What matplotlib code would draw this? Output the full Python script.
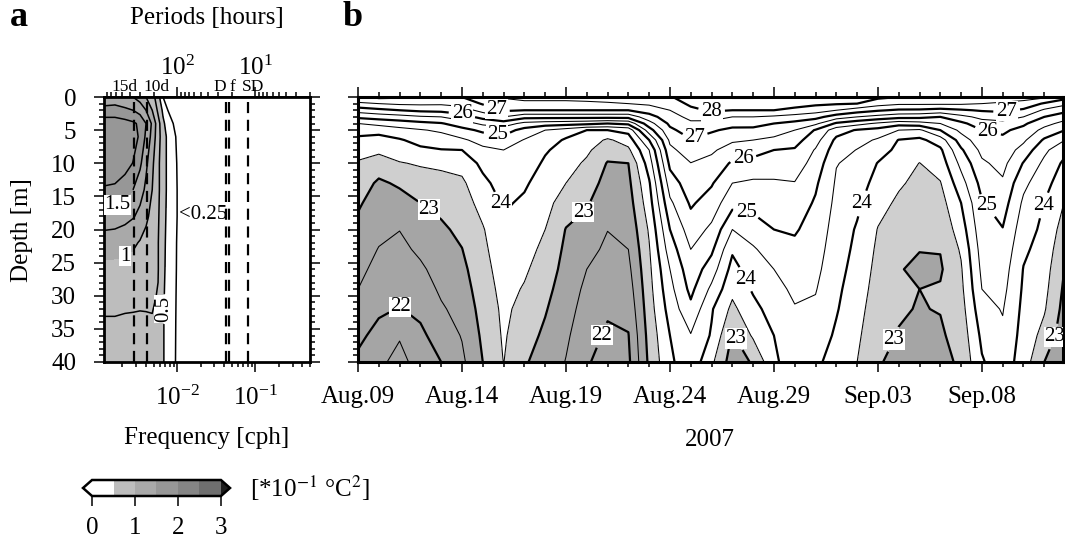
import numpy as np
import matplotlib
matplotlib.use('Agg')
import matplotlib.pyplot as plt
import matplotlib.colors as mcolors
from matplotlib.cm import ScalarMappable
from matplotlib.ticker import MultipleLocator, NullFormatter, NullLocator
from matplotlib.transforms import blended_transform_factory

plt.rcParams['font.family'] = 'Liberation Serif'
plt.rcParams['mathtext.fontset'] = 'stix'

# ---------------- panel b : temperature, one row per day from Aug.09
days = np.arange(35)
depths_b = [0, 1, 2, 3, 4, 5, 6.5, 8, 10, 13, 16, 20, 23, 26, 29, 32, 36, 40]
temp = [
    [26.8, 26.43, 25.71, 25.11, 24.5, 24.19, 23.88, 23.68, 23.45, 23.26, 23.06, 22.88, 22.75, 22.63, 22.5, 22.33, 22.11, 21.9],
    [27.1, 26.5, 25.88, 25.21, 24.65, 24.15, 23.83, 23.61, 23.26, 22.92, 22.79, 22.62, 22.48, 22.35, 22.21, 22.08, 21.85, 21.6],
    [27.05, 26.58, 26.0, 25.31, 24.75, 24.34, 23.95, 23.74, 23.47, 23.07, 22.81, 22.51, 22.38, 22.25, 22.12, 21.98, 21.54, 21.35],
    [26.9, 26.59, 26.11, 25.44, 24.86, 24.46, 24.17, 23.9, 23.55, 23.26, 23.0, 22.76, 22.59, 22.42, 22.26, 22.11, 21.9, 21.7],
    [26.8, 26.57, 26.15, 25.5, 24.96, 24.58, 24.26, 23.98, 23.6, 23.33, 23.13, 22.92, 22.81, 22.69, 22.58, 22.44, 22.22, 22.0],
    [27.0, 26.67, 26.27, 25.78, 25.25, 24.85, 24.42, 24.0, 23.67, 23.41, 23.28, 23.11, 22.99, 22.88, 22.78, 22.67, 22.53, 22.4],
    [27.3, 27.05, 26.67, 26.17, 25.61, 25.1, 24.68, 24.39, 24.13, 23.87, 23.67, 23.46, 23.39, 23.32, 23.25, 23.18, 23.09, 23.0],
    [27.55, 27.31, 27.07, 26.5, 25.75, 25.23, 24.8, 24.5, 24.39, 24.22, 24.06, 23.91, 23.81, 23.73, 23.66, 23.6, 23.56, 23.51],
    [27.6, 27.42, 27.0, 26.17, 25.36, 24.83, 24.47, 24.38, 24.25, 24.06, 23.93, 23.79, 23.68, 23.57, 23.46, 23.35, 23.2, 23.05],
    [27.6, 27.42, 27.0, 26.17, 25.25, 24.5, 24.27, 24.05, 23.93, 23.8, 23.67, 23.5, 23.38, 23.27, 23.15, 23.04, 22.91, 22.8],
    [27.6, 27.42, 27.0, 26.17, 25.2, 24.29, 23.93, 23.83, 23.7, 23.5, 23.25, 22.98, 22.9, 22.83, 22.75, 22.68, 22.58, 22.48],
    [27.65, 27.42, 27.0, 26.17, 25.13, 24.0, 23.8, 23.59, 23.42, 23.23, 23.05, 22.83, 22.66, 22.5, 22.4, 22.31, 22.18, 22.05],
    [27.7, 27.45, 27.0, 26.17, 25.0, 24.0, 23.42, 23.2, 22.97, 22.83, 22.7, 22.51, 22.4, 22.29, 22.17, 22.06, 21.93, 21.8],
    [27.75, 27.5, 27.0, 26.17, 25.13, 24.17, 23.72, 23.4, 23.0, 22.88, 22.77, 22.62, 22.5, 22.38, 22.26, 22.14, 21.98, 21.9],
    [27.85, 27.58, 27.23, 26.8, 26.3, 25.78, 25.0, 24.5, 24.25, 23.94, 23.78, 23.56, 23.46, 23.39, 23.33, 23.27, 23.18, 23.1],
    [27.95, 27.73, 27.5, 27.3, 27.1, 26.9, 26.6, 26.38, 26.12, 25.75, 25.4, 25.0, 24.75, 24.5, 24.35, 24.2, 24.0, 23.9],
    [28.3, 28.1, 27.88, 27.63, 27.41, 27.23, 26.97, 26.76, 26.49, 26.28, 26.07, 25.75, 25.5, 25.31, 25.13, 24.88, 24.47, 24.35],
    [28.45, 28.25, 28.06, 27.71, 27.35, 27.06, 26.8, 26.58, 26.35, 26.05, 25.77, 25.4, 25.1, 24.75, 24.39, 24.05, 23.95, 23.6],
    [28.55, 28.33, 28.0, 27.5, 27.17, 26.89, 26.57, 26.28, 25.93, 25.5, 25.17, 24.5, 24.07, 23.83, 23.63, 23.38, 22.95, 22.75],
    [28.55, 28.33, 28.0, 27.5, 27.17, 26.88, 26.5, 26.2, 25.83, 25.42, 25.17, 24.75, 24.44, 24.25, 24.06, 23.86, 23.57, 23.05],
    [28.5, 28.25, 28.0, 27.42, 27.0, 26.75, 26.38, 26.0, 25.75, 25.44, 25.25, 25.0, 24.75, 24.5, 24.35, 24.2, 24.0, 23.9],
    [28.4, 28.18, 27.88, 27.3, 26.86, 26.5, 26.2, 25.95, 25.75, 25.48, 25.29, 25.05, 24.89, 24.74, 24.59, 24.47, 24.39, 24.3],
    [28.3, 28.1, 27.72, 27.17, 26.61, 25.96, 25.69, 25.46, 25.31, 25.08, 24.94, 24.81, 24.72, 24.63, 24.53, 24.42, 24.26, 24.1],
    [28.2, 28.05, 27.5, 26.75, 25.92, 25.22, 24.89, 24.73, 24.52, 24.44, 24.38, 24.29, 24.23, 24.17, 24.1, 24.04, 23.93, 23.8],
    [28.1, 28.0, 27.25, 26.5, 25.67, 24.96, 24.69, 24.48, 24.38, 24.24, 24.1, 23.95, 23.89, 23.82, 23.75, 23.68, 23.59, 23.5],
    [28.1, 27.71, 27.06, 26.33, 25.42, 24.83, 24.43, 24.22, 23.98, 23.82, 23.66, 23.48, 23.41, 23.35, 23.29, 23.22, 23.13, 23.05],
    [28.0, 27.58, 26.93, 26.17, 25.2, 24.5, 23.98, 23.88, 23.74, 23.56, 23.42, 23.22, 23.08, 23.04, 23.07, 23.04, 22.98, 22.85],
    [28.0, 27.58, 26.92, 26.14, 25.3, 24.42, 23.88, 23.71, 23.49, 23.38, 23.27, 23.13, 23.02, 22.88, 23.0, 22.98, 22.85, 22.75],
    [28.05, 27.58, 26.83, 26.0, 25.5, 25.0, 24.25, 23.91, 23.73, 23.47, 23.3, 23.12, 23.02, 22.94, 23.04, 23.02, 22.93, 22.82],
    [27.9, 27.57, 26.94, 26.36, 25.88, 25.63, 25.25, 24.93, 24.64, 24.3, 24.0, 23.75, 23.56, 23.45, 23.38, 23.3, 23.2, 23.1],
    [27.8, 27.5, 27.05, 26.63, 26.29, 26.0, 25.81, 25.63, 25.42, 25.17, 24.96, 24.82, 24.71, 24.61, 24.5, 24.33, 24.11, 23.95],
    [27.75, 27.43, 27.1, 26.71, 26.36, 26.08, 25.91, 25.8, 25.65, 25.43, 25.23, 24.98, 24.86, 24.74, 24.64, 24.53, 24.41, 24.3],
    [27.7, 27.33, 26.92, 26.5, 26.08, 25.86, 25.59, 25.31, 24.97, 24.62, 24.41, 24.23, 24.09, 23.98, 23.93, 23.88, 23.82, 23.75],
    [27.6, 26.94, 26.42, 26.0, 25.67, 25.35, 24.93, 24.61, 24.39, 24.18, 23.99, 23.88, 23.8, 23.72, 23.64, 23.55, 23.33, 23.0],
    [27.2, 26.62, 26.14, 25.71, 25.33, 25.0, 24.5, 24.13, 23.89, 23.68, 23.47, 23.26, 23.11, 22.97, 22.89, 22.81, 22.71, 22.6],
]
date_ticks = [0, 5, 10, 15, 20, 25, 30]
date_labels = ['Aug.09', 'Aug.14', 'Aug.19', 'Aug.24', 'Aug.29', 'Sep.03', 'Sep.08']
labels_b = [(5.0, 2.6), (6.6, 2.4), (6.7, 5.5), (6.7, 16.3), (3.3, 17.4), (10.9, 17.6),
            (2.0, 31.8), (11.9, 36.2), (17.0, 2.3), (16.2, 6.3), (18.5, 9.0), (18.7, 17.0),
            (18.7, 27.4), (18.3, 36.2), (24.4, 16.2), (25.5, 36.2), (31.2, 2.3), (30.3, 5.0),
            (30.3, 16.3), (32.9, 16.3), (33.5, 36.2)]

# ---------------- panel a : variance spectrum (*10^-1 degC^2)
freq = [1.16e-3, 1.6e-3, 2.15e-3, 2.73e-3, 3.35e-3, 4.0e-3, 4.8e-3, 5.7e-3,
        6.6e-3, 7.6e-3, 8.9e-3, 1.03e-2, 1.47e-2, 4.8e-2, 0.5]
depths_a = [0, 2, 4, 6, 10, 14, 18, 22, 26, 30, 34, 40]
spec = [
    [1.3, 1.35, 1.3, 1.25, 1.15, 1.0, 0.85, 0.6, 0.25, 0.15, 0.1, 0.08, 0.05, 0.02, 0.01],
    [1.6, 1.6, 1.55, 1.5, 1.4, 1.25, 1.0, 0.7, 0.45, 0.25, 0.15, 0.1, 0.06, 0.02, 0.01],
    [1.88, 1.88, 1.84, 1.79, 1.7, 1.5, 1.2, 0.85, 0.55, 0.38, 0.25, 0.15, 0.08, 0.02, 0.01],
    [1.95, 1.95, 1.93, 1.87, 1.7, 1.45, 1.15, 0.85, 0.6, 0.45, 0.3, 0.2, 0.08, 0.02, 0.01],
    [1.93, 1.92, 1.86, 1.74, 1.55, 1.3, 1.05, 0.8, 0.6, 0.45, 0.32, 0.22, 0.08, 0.02, 0.01],
    [1.72, 1.7, 1.6, 1.5, 1.35, 1.2, 1.0, 0.8, 0.6, 0.45, 0.32, 0.23, 0.08, 0.02, 0.01],
    [1.4, 1.38, 1.33, 1.27, 1.18, 1.05, 0.92, 0.78, 0.58, 0.44, 0.32, 0.23, 0.08, 0.02, 0.01],
    [1.12, 1.11, 1.08, 1.04, 0.98, 0.92, 0.85, 0.76, 0.56, 0.43, 0.31, 0.22, 0.08, 0.02, 0.01],
    [0.93, 0.93, 0.92, 0.9, 0.88, 0.85, 0.82, 0.76, 0.55, 0.42, 0.3, 0.22, 0.08, 0.02, 0.01],
    [0.82, 0.82, 0.81, 0.8, 0.79, 0.78, 0.77, 0.74, 0.53, 0.41, 0.3, 0.21, 0.08, 0.02, 0.01],
    [0.73, 0.73, 0.72, 0.72, 0.72, 0.73, 0.74, 0.7, 0.52, 0.4, 0.29, 0.21, 0.08, 0.02, 0.01],
    [0.62, 0.62, 0.62, 0.62, 0.63, 0.64, 0.65, 0.6, 0.52, 0.4, 0.29, 0.2, 0.08, 0.02, 0.01],
]
spec_levels = [0, 0.5, 1, 1.5, 2, 2.5, 3]
spec_colors = ['white', '#bdbdbd', '#a9a9a9', '#979797', '#858585', '#6f6f6f']
# periods marked: 15 days, 10 days, diurnal, inertial, semidiurnal
mark_freq = [1 / 360, 1 / 240, 1 / 24, 1 / 21.6, 1 / 12.42]
mark_text = ['15d', '10d', 'D', 'f', 'SD']
mark_text_x = [2.15e-3, 5.4e-3, 0.0346, 0.0507, 0.0942]
labels_a = [(1.86e-3, 16.3), (1.6e-3, 24.0), (7.0e-3, 32.0)]

FS = 18

fig = plt.figure(figsize=(10.65, 5.41), dpi=100)
axa = fig.add_axes([104 / 1065, 1 - 362 / 541, 206 / 1065, 265 / 541])
axb = fig.add_axes([358 / 1065, 1 - 362 / 541, 705 / 1065, 265 / 541])
cax = fig.add_axes([83 / 1065, 1 - 496 / 541, 147 / 1065, 16 / 541])

# ---- panel b
T = np.array(temp).T
axb.contourf(days, depths_b, T, levels=[0, 23, 23.5, 40],
             colors=['#a5a5a5', '#cfcfcf', 'white'])
lv = np.arange(21.5, 29.0, 0.5)
axb.contour(days, depths_b, T, levels=[l for l in lv if l % 1], colors='k', linewidths=0.75)
cs = axb.contour(days, depths_b, T, levels=[l for l in lv if not l % 1],
                 colors='k', linewidths=1.6)
lab = axb.clabel(cs, fmt='%d', fontsize=15, inline=True, inline_spacing=3, manual=labels_b)
for t in lab:
    t.set_rotation(0)
    t.set_bbox(dict(facecolor='white', edgecolor='none', pad=0.5))
axb.set_xlim(0, 33.9)
axb.set_ylim(40, 0)
axb.set_xticks(date_ticks)
axb.set_xticklabels(date_labels)
axb.xaxis.set_minor_locator(MultipleLocator(1))
axb.yaxis.set_major_locator(MultipleLocator(5))
axb.yaxis.set_minor_locator(MultipleLocator(1))
axb.tick_params(which='both', direction='out', top=True, right=False, labelleft=False,
                width=1.1, labelsize=FS)
axb.tick_params(which='major', length=7, pad=10)
axb.tick_params(which='minor', length=3.5)
for s in axb.spines.values():
    s.set_linewidth(2.2)

# ---- panel a
S = np.array(spec)
cmap = mcolors.ListedColormap(spec_colors).with_extremes(under='white', over='#1e1e1e')
norm = mcolors.BoundaryNorm(spec_levels, cmap.N)
axa.contourf(freq, depths_a, S, levels=spec_levels, cmap=cmap, norm=norm, extend='both')
axa.contour(freq, depths_a, S, levels=[0.25, 0.75, 1.25, 1.75, 2.0, 2.25, 2.5],
            colors='k', linewidths=1.1)
csa = axa.contour(freq, depths_a, S, levels=[0.5, 1.0, 1.5], colors='k', linewidths=1.1)
laba = axa.clabel(csa, fmt=lambda v: f'{v:g}', fontsize=15,
                  inline=True, inline_spacing=2, manual=labels_a)
for t in laba:
    t.set_rotation(90 if t.get_text() == '0.5' else 0)
    t.set_bbox(dict(facecolor='white', edgecolor='none', pad=0.5))
axa.text(0.0106, 17.8, '<0.25', fontsize=15, ha='left', va='center')
for f in mark_freq:
    axa.axvline(f, color='k', lw=1.6, ls=(0, (5, 3)))
axa.set_xscale('log')
axa.set_xlim(1.16e-3, 0.5)
axa.set_ylim(40, 0)
axa.yaxis.set_major_locator(MultipleLocator(5))
axa.yaxis.set_minor_locator(MultipleLocator(1))
axa.xaxis.set_minor_formatter(NullFormatter())
axa.tick_params(which='both', direction='out', right=True, width=1.1, labelsize=FS)
axa.tick_params(which='major', length=7, pad=10)
axa.tick_params(which='minor', length=3.5)
axa.tick_params(axis='y', which='major', pad=13)
for s in axa.spines.values():
    s.set_linewidth(2.0)


def inv(x):
    x = np.asarray(x, dtype=float)
    with np.errstate(divide='ignore'):
        return 1.0 / x


top = axa.secondary_xaxis('top', functions=(inv, inv))
top.xaxis.set_minor_formatter(NullFormatter())
top.tick_params(which='both', direction='out', width=1.1, labelsize=FS)
top.tick_params(which='major', length=7, pad=5.5)
top.tick_params(which='minor', length=3.5)
top.spines['top'].set_linewidth(2.0)
tr = blended_transform_factory(axa.transData, axa.transAxes)
for xt, s in zip(mark_text_x, mark_text):
    axa.text(xt, 1.006, s, transform=tr, ha='center', va='bottom', fontsize=12.5)

# ---- colorbar
cb = fig.colorbar(ScalarMappable(norm=norm, cmap=cmap), cax=cax, orientation='horizontal',
                  extend='both', extendfrac=0.07, ticks=[0, 1, 2, 3])
cb.outline.set_linewidth(1.8)
cax.tick_params(direction='out', length=7, width=1.1, labelsize=FS, pad=8)
cax.xaxis.set_minor_locator(NullLocator())

# ---- texts
fig.text(10 / 1065, 1 - 18 / 541, 'a', fontsize=26, fontweight='bold', va='center')
fig.text(343 / 1065, 1 - 18 / 541, 'b', fontsize=26, fontweight='bold', va='center')
fig.text(207 / 1065, 1 - 18 / 541, 'Periods [hours]', fontsize=FS, ha='center', va='center')
fig.text(22 / 1065, 1 - 230 / 541, 'Depth [m]', fontsize=FS, rotation=90, ha='center', va='center')
fig.text(207 / 1065, 1 - 438 / 541, 'Frequency [cph]', fontsize=FS, ha='center', va='center')
fig.text(710 / 1065, 1 - 440 / 541, '2007', fontsize=FS, ha='center', va='center')
fig.text(250 / 1065, 1 - 488 / 541, r'[*10$^{-1}$ °C$^{2}$]', fontsize=FS, ha='left', va='center')

fig.savefig('out.png', dpi=100)
